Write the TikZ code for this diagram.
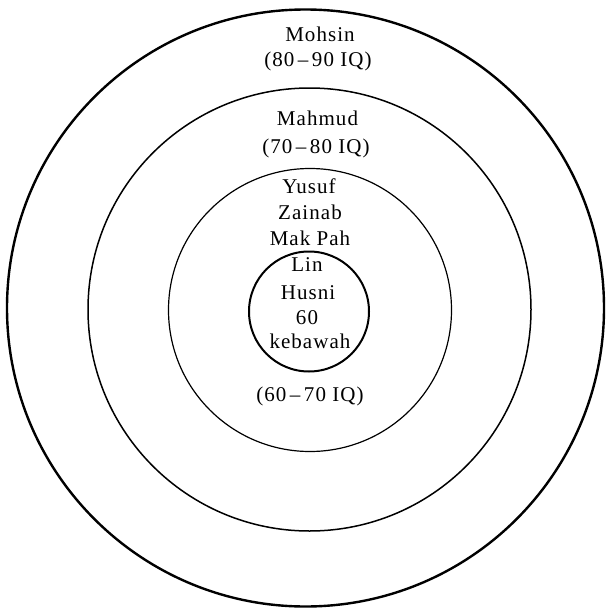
\documentclass[tikz,border=0pt]{standalone}
\usepackage{fontspec}
\setmainfont{Liberation Serif}[LetterSpace=5]
\usetikzlibrary{positioning}

\begin{document}
\begin{tikzpicture}[x=1pt,y=-1pt,
  font=\fontsize{21}{25}\selectfont,
  ring/.style={circle,draw,inner sep=0pt},
  lbl/.style={anchor=base,inner sep=0pt}]
\useasboundingbox (0,0) rectangle (605,610);
% rings, outside in
\node[ring,line width=2.4pt,minimum size=597pt] (ring80) at (305.5,308) {};
\node[ring,line width=1.5pt,minimum size=443pt] (ring70) at (309.5,309.5) {};
\node[ring,line width=1.2pt,minimum size=283pt] (ring60) at (310,310) {};
\node[ring,line width=2pt,minimum size=120pt] (core) at (309,311.5) {};
% labels
\node[lbl] (mohsin) at (320,41.5) {Mohsin};
\node[lbl] (iq80) at (318,66.5) {(80\,–\,90 IQ)};
\node[lbl] (mahmud) at (317.5,125) {Mahmud};
\node[lbl] (iq70) at (316,153) {(70\,–\,80 IQ)};
\node[lbl] (yusuf) at (309,193) {Yusuf};
\node[lbl] (zainab) at (310,219) {Zainab};
\node[lbl] (makpah) at (310,245) {Mak Pah};
\node[lbl] (lin) at (307,271.5) {Lin};
\node[lbl] (husni) at (308,299.5) {Husni};
\node[lbl] (sixty) at (307,324) {60};
\node[lbl] (kebawah) at (310,348) {kebawah};
\node[lbl] (iq60) at (310,401.5) {(60\,–\,70 IQ)};
\end{tikzpicture}
\end{document}
